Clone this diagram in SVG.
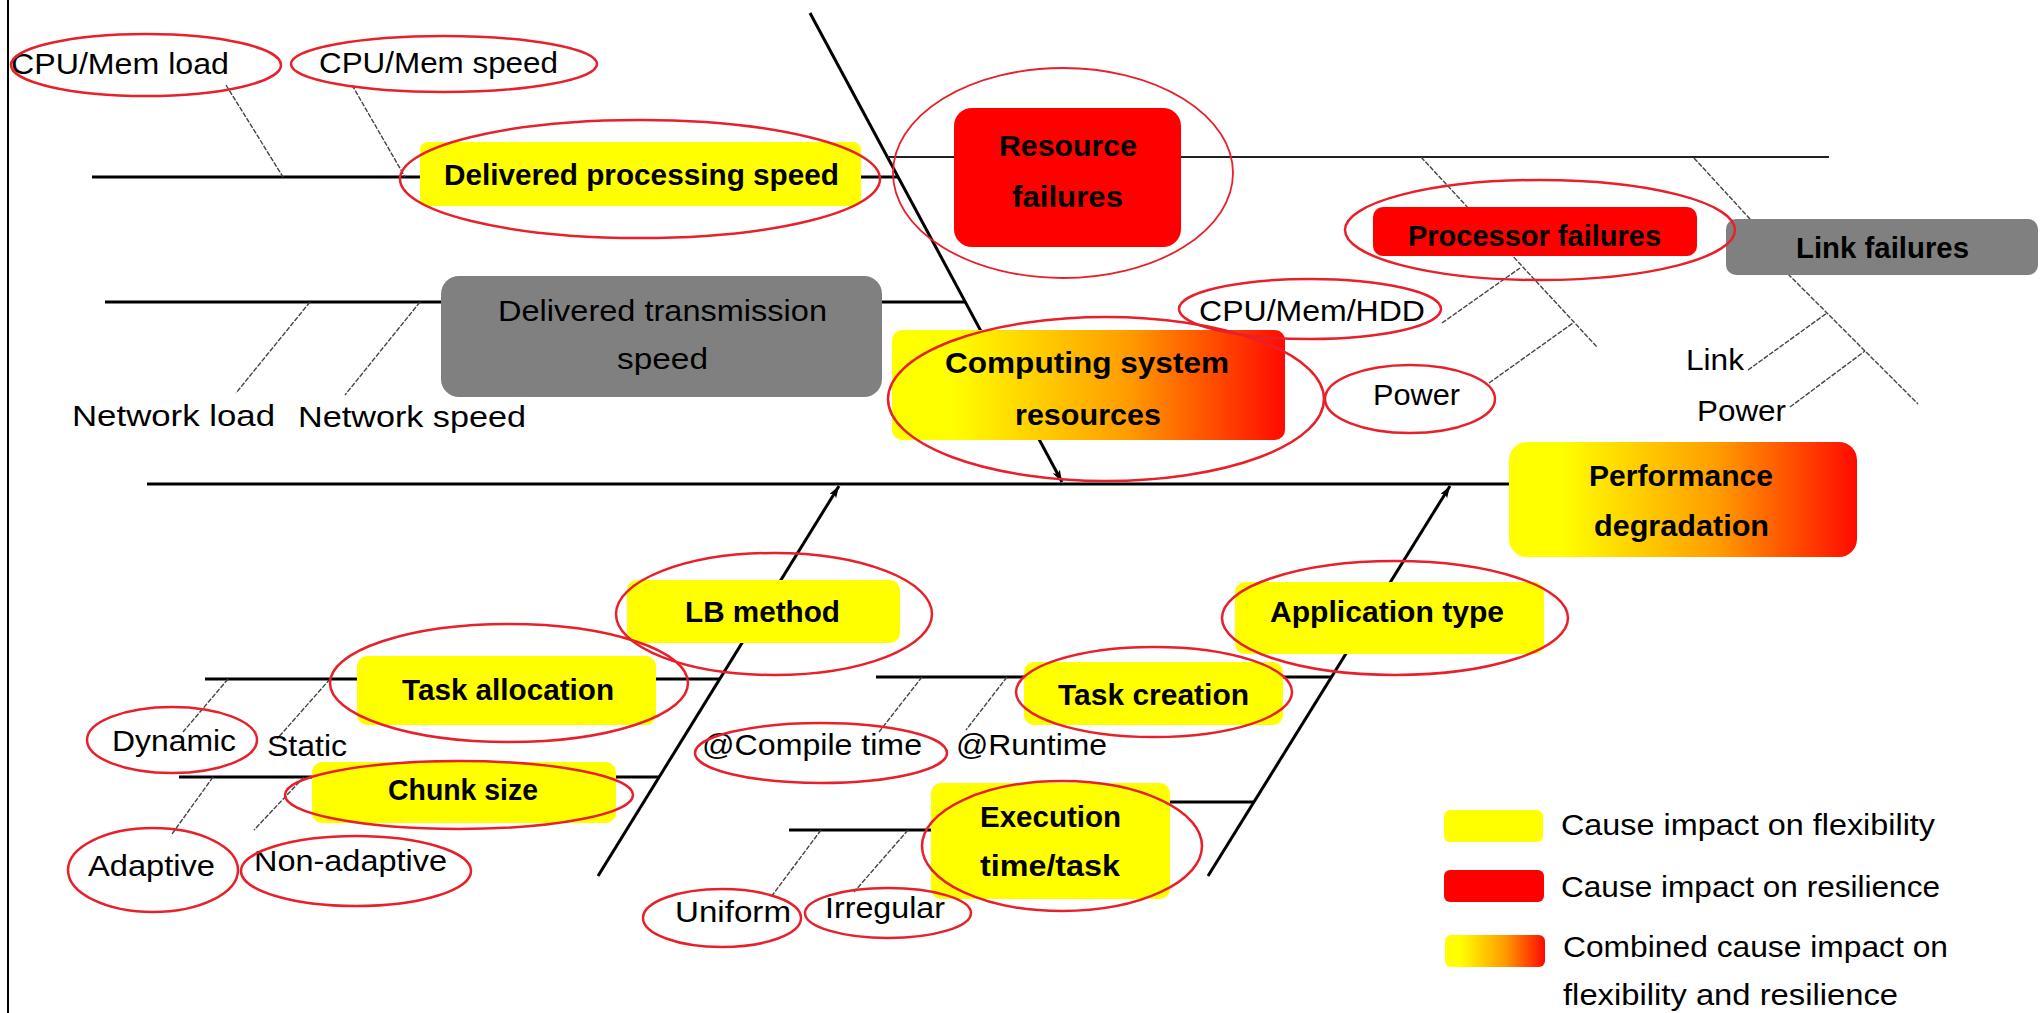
<svg xmlns="http://www.w3.org/2000/svg" width="2040" height="1013" viewBox="0 0 2040 1013">
<defs>
<linearGradient id="grad" x1="0" y1="0" x2="1" y2="0">
<stop offset="0" stop-color="#ffff00"/>
<stop offset="0.15" stop-color="#ffff00"/>
<stop offset="0.6" stop-color="#ff9c00"/>
<stop offset="1" stop-color="#ff0a00"/>
</linearGradient>
<marker id="arr" viewBox="0 0 12 8" refX="12" refY="4" markerWidth="12" markerHeight="8" markerUnits="userSpaceOnUse" orient="auto">
<path d="M0,0 L12,4 L0,8 L3,4 Z" fill="#000"/>
</marker>
<style>
.bone{stroke:#000;stroke-width:3;fill:none}
.thin{stroke:#444;stroke-width:1.4;fill:none;stroke-dasharray:5 1.5}
.rib{stroke:#222;stroke-width:2;fill:none}
.spine{stroke:#000;stroke-width:3;fill:none}
.ell{fill:none;stroke:#e8202a;stroke-width:2.5}
.yel{fill:#ffff00}
.red{fill:#ff0000}
.gry{fill:#808080}
.grd{fill:url(#grad)}
text{font-family:"Liberation Sans",Arial,sans-serif;font-size:30px;fill:#000}
.b{font-weight:bold}
</style>
</defs>
<rect x="0" y="0" width="2040" height="1013" fill="#fff"/>
<line x1="8" y1="0" x2="8" y2="1013" stroke="#000" stroke-width="2"/>

<g id="connectors">
<line class="spine" x1="147" y1="484" x2="1509" y2="484"/>
<line class="spine" x1="810" y1="13" x2="1062" y2="482" marker-end="url(#arr)"/>
<line class="spine" x1="598" y1="876" x2="839" y2="486" marker-end="url(#arr)"/>
<line class="spine" x1="1208" y1="876" x2="1450" y2="486" marker-end="url(#arr)"/>
<line class="bone" x1="92" y1="177" x2="420" y2="177"/>
<line class="bone" x1="861" y1="177" x2="898" y2="177"/>
<line class="thin" x1="226" y1="85" x2="283" y2="177"/>
<line class="thin" x1="352" y1="85" x2="405" y2="177"/>
<line class="bone" x1="105" y1="302" x2="441" y2="302"/>
<line class="bone" x1="882" y1="302" x2="965" y2="302"/>
<line class="thin" x1="310" y1="302" x2="236" y2="393"/>
<line class="thin" x1="420" y1="302" x2="345" y2="395"/>
<line class="rib" x1="887" y1="157" x2="954" y2="157"/>
<line class="rib" x1="1181" y1="157" x2="1829" y2="157"/>
<line class="thin" x1="1421" y1="157" x2="1597" y2="347"/>
<polyline class="thin" points="1694,158 1750,219 1789,275 1918,404"/>
<line class="thin" x1="1442" y1="323" x2="1520" y2="268"/>
<line class="thin" x1="1489" y1="383" x2="1573" y2="323"/>
<line class="thin" x1="1748" y1="370" x2="1827" y2="313"/>
<line class="thin" x1="1790" y1="407" x2="1865" y2="351"/>
<line class="bone" x1="205" y1="679" x2="719" y2="679"/>
<line class="bone" x1="179" y1="777" x2="659" y2="777"/>
<line class="thin" x1="228" y1="679" x2="183" y2="732"/>
<line class="thin" x1="330" y1="679" x2="277" y2="739"/>
<line class="thin" x1="213" y1="777" x2="172" y2="834"/>
<line class="thin" x1="304" y1="777" x2="254" y2="830"/>
<line class="bone" x1="876" y1="677" x2="1332" y2="677"/>
<line class="thin" x1="922" y1="677" x2="879" y2="732"/>
<line class="thin" x1="1007" y1="677" x2="966" y2="730"/>
<line class="bone" x1="789" y1="830" x2="931" y2="830"/>
<line class="bone" x1="1170" y1="802" x2="1254" y2="802"/>
<line class="thin" x1="821" y1="830" x2="771" y2="897"/>
<line class="thin" x1="908" y1="830" x2="854" y2="892"/>
</g>

<g id="n-delivered-processing">
<rect class="yel" x="420" y="142" width="441" height="64" rx="8"/>
<text class="b" x="444" y="185" textLength="395" lengthAdjust="spacingAndGlyphs">Delivered processing speed</text>
</g>
<g id="n-resource-failures">
<rect class="red" x="954" y="108" width="227" height="139" rx="18"/>
<text class="b" x="999" y="156" textLength="138" lengthAdjust="spacingAndGlyphs">Resource</text>
<text class="b" x="1012" y="207" textLength="111" lengthAdjust="spacingAndGlyphs">failures</text>
</g>
<g id="n-delivered-transmission">
<rect class="gry" x="441" y="276" width="441" height="121" rx="18"/>
<text x="498" y="321" textLength="329" lengthAdjust="spacingAndGlyphs">Delivered transmission</text>
<text x="617" y="369" textLength="91" lengthAdjust="spacingAndGlyphs">speed</text>
</g>
<g id="n-computing">
<rect class="grd" x="892" y="330" width="393" height="110" rx="10"/>
<text class="b" x="945" y="373" textLength="284" lengthAdjust="spacingAndGlyphs">Computing system</text>
<text class="b" x="1015" y="425" textLength="146" lengthAdjust="spacingAndGlyphs">resources</text>
</g>
<g id="n-processor-failures">
<rect class="red" x="1373" y="207" width="324" height="49" rx="10"/>
<text class="b" x="1408" y="246" textLength="253" lengthAdjust="spacingAndGlyphs">Processor failures</text>
</g>
<g id="n-link-failures">
<rect class="gry" x="1726" y="219" width="312" height="56" rx="10"/>
<text class="b" x="1796" y="258" textLength="173" lengthAdjust="spacingAndGlyphs">Link failures</text>
</g>
<g id="n-performance">
<rect class="grd" x="1509" y="442" width="348" height="115" rx="18"/>
<text class="b" x="1589" y="486" textLength="184" lengthAdjust="spacingAndGlyphs">Performance</text>
<text class="b" x="1594" y="536" textLength="175" lengthAdjust="spacingAndGlyphs">degradation</text>
</g>
<g id="n-lb-method">
<rect class="yel" x="627" y="580" width="273" height="63" rx="10"/>
<text class="b" x="685" y="622" textLength="155" lengthAdjust="spacingAndGlyphs">LB method</text>
</g>
<g id="n-task-allocation">
<rect class="yel" x="357" y="656" width="299" height="69" rx="10"/>
<text class="b" x="402" y="700" textLength="212" lengthAdjust="spacingAndGlyphs">Task allocation</text>
</g>
<g id="n-chunk-size">
<rect class="yel" x="312" y="762" width="304" height="61" rx="10"/>
<text class="b" x="388" y="800" textLength="150" lengthAdjust="spacingAndGlyphs">Chunk size</text>
</g>
<g id="n-task-creation">
<rect class="yel" x="1024" y="662" width="259" height="63" rx="10"/>
<text class="b" x="1058" y="705" textLength="191" lengthAdjust="spacingAndGlyphs">Task creation</text>
</g>
<g id="n-execution">
<rect class="yel" x="931" y="783" width="239" height="116" rx="10"/>
<text class="b" x="980" y="827" textLength="141" lengthAdjust="spacingAndGlyphs">Execution</text>
<text class="b" x="980" y="876" textLength="140" lengthAdjust="spacingAndGlyphs">time/task</text>
</g>
<g id="n-application-type">
<rect class="yel" x="1235" y="582" width="309" height="72" rx="10"/>
<text class="b" x="1270" y="622" textLength="234" lengthAdjust="spacingAndGlyphs">Application type</text>
</g>

<g id="n-cpu-load"><text x="11" y="74" textLength="218" lengthAdjust="spacingAndGlyphs">CPU/Mem load</text></g>
<g id="n-cpu-speed"><text x="319" y="73" textLength="239" lengthAdjust="spacingAndGlyphs">CPU/Mem speed</text></g>
<g id="n-network-load"><text x="72" y="426" textLength="203" lengthAdjust="spacingAndGlyphs">Network load</text></g>
<g id="n-network-speed"><text x="298" y="427" textLength="228" lengthAdjust="spacingAndGlyphs">Network speed</text></g>
<g id="n-cpu-hdd"><text x="1199" y="321" textLength="226" lengthAdjust="spacingAndGlyphs">CPU/Mem/HDD</text></g>
<g id="n-power1"><text x="1373" y="405" textLength="87" lengthAdjust="spacingAndGlyphs">Power</text></g>
<g id="n-link"><text x="1686" y="370" textLength="58" lengthAdjust="spacingAndGlyphs">Link</text></g>
<g id="n-power2"><text x="1697" y="421" textLength="89" lengthAdjust="spacingAndGlyphs">Power</text></g>
<g id="n-dynamic"><text x="112" y="751" textLength="124" lengthAdjust="spacingAndGlyphs">Dynamic</text></g>
<g id="n-static"><text x="267" y="756" textLength="80" lengthAdjust="spacingAndGlyphs">Static</text></g>
<g id="n-adaptive"><text x="88" y="876" textLength="127" lengthAdjust="spacingAndGlyphs">Adaptive</text></g>
<g id="n-nonadaptive"><text x="254" y="871" textLength="193" lengthAdjust="spacingAndGlyphs">Non-adaptive</text></g>
<g id="n-compile"><text x="702" y="755" textLength="220" lengthAdjust="spacingAndGlyphs">@Compile time</text></g>
<g id="n-runtime"><text x="956" y="755" textLength="151" lengthAdjust="spacingAndGlyphs">@Runtime</text></g>
<g id="n-uniform"><text x="675" y="922" textLength="116" lengthAdjust="spacingAndGlyphs">Uniform</text></g>
<g id="n-irregular"><text x="825" y="918" textLength="120" lengthAdjust="spacingAndGlyphs">Irregular</text></g>

<g id="highlights">
<ellipse class="ell" cx="146" cy="65" rx="135" ry="31"/>
<ellipse class="ell" cx="444" cy="64" rx="153" ry="28"/>
<ellipse class="ell" cx="640" cy="179" rx="240" ry="59"/>
<ellipse class="ell" cx="1063" cy="173" rx="170" ry="105" style="stroke-width:1.8"/>
<ellipse class="ell" cx="1106" cy="399" rx="218" ry="82"/>
<ellipse class="ell" cx="1310" cy="309" rx="131" ry="30"/>
<ellipse class="ell" cx="1410" cy="399" rx="85" ry="34"/>
<ellipse class="ell" cx="1540" cy="230" rx="195" ry="50"/>
<ellipse class="ell" cx="774" cy="614" rx="158" ry="61"/>
<ellipse class="ell" cx="509" cy="683" rx="179" ry="59"/>
<ellipse class="ell" cx="459" cy="795" rx="174" ry="34"/>
<ellipse class="ell" cx="172" cy="740" rx="85" ry="33"/>
<ellipse class="ell" cx="153" cy="870" rx="85" ry="42"/>
<ellipse class="ell" cx="356" cy="871" rx="115" ry="35"/>
<ellipse class="ell" cx="1154" cy="692" rx="138" ry="45"/>
<ellipse class="ell" cx="821" cy="753" rx="126" ry="30"/>
<ellipse class="ell" cx="1062" cy="846" rx="140" ry="65"/>
<ellipse class="ell" cx="722" cy="918" rx="79" ry="29"/>
<ellipse class="ell" cx="888" cy="913" rx="83" ry="25"/>
<ellipse class="ell" cx="1395" cy="618" rx="173" ry="57"/>
</g>

<g id="legend">
<rect class="yel" x="1444" y="810" width="99" height="32" rx="6"/>
<rect class="red" x="1444" y="870" width="100" height="32" rx="6"/>
<rect class="grd" x="1445" y="935" width="100" height="32" rx="6"/>
<text x="1561" y="835" textLength="374" lengthAdjust="spacingAndGlyphs">Cause impact on flexibility</text>
<text x="1561" y="897" textLength="379" lengthAdjust="spacingAndGlyphs">Cause impact on resilience</text>
<text x="1563" y="957" textLength="385" lengthAdjust="spacingAndGlyphs">Combined cause impact on</text>
<text x="1563" y="1005" textLength="335" lengthAdjust="spacingAndGlyphs">flexibility and resilience</text>
</g>
</svg>
